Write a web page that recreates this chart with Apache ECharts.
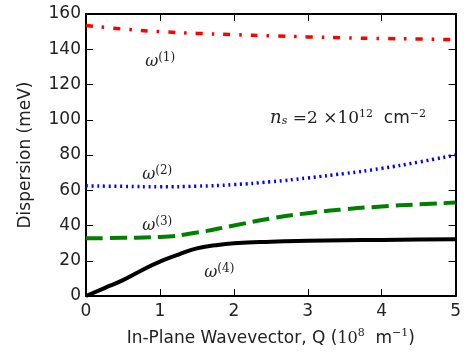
<!DOCTYPE html>
<html><head><meta charset="utf-8">
<script src="https://cdn.jsdelivr.net/npm/echarts@6/dist/echarts.min.js"></script>
<style>html,body{margin:0;padding:0;background:#fff}#c{width:464px;height:355px}</style>
</head><body><div id="c"></div>
<script>
const qRed = [0,0.5,1,1.5,2,2.5,3,3.5,4,4.5,5];
const omega1 = [153.5,151.5,150,149,148.3,147.6,147,146.5,146.1,145.8,145.5];
const qBlue = [0,0.5,1,1.5,2,2.5,3,3.5,4,4.5,5];
const omega2 = [62.5,62.2,62,62.3,63.2,64.8,67,69.5,72.4,76,80];
const qGreen = [0,0.5,1,1.5,2,2.5,3,3.5,4,4.5,5];
const omega3 = [32.7,33,33.5,36,40,44,47,49.2,50.8,52,53];
const qBlack = [0,0.25,0.5,0.75,1,1.25,1.5,1.75,2,2.5,3,3.5,4,4.5,5];
const omega4 = [0,4.5,9,14.5,19.5,23.5,27,28.8,29.9,30.8,31.3,31.6,31.8,32,32.2];
const xTicks = [0,1,2,3,4,5];
const yTicks = [0,20,40,60,80,100,120,140,160];
const labels = [
  {sup:'(1)', q:0.8, v:127},
  {sup:'(2)', q:0.76, v:63},
  {sup:'(3)', q:0.76, v:34},
  {sup:'(4)', q:1.6, v:7.5}
];
const annot = {q:2.49, v:95};

function pairs(xs, ys){ return xs.map((x,i)=>[x, ys[i]]); }

const chart = echarts.init(document.getElementById('c'));
function axisCommon(){ return {
  axisLine:{show:true, onZero:false, lineStyle:{color:'#000', width:2}},
  axisTick:{show:true, inside:true, length:7, lineStyle:{color:'#000', width:1}},
  splitLine:{show:false}
};}
const sans = 'DejaVu Sans';
chart.setOption({
  animation:false,
  grid:{left:86, right:8, top:14, bottom:59, containLabel:false},
  xAxis:[
    Object.assign({type:'value', min:0, max:5, interval:1, position:'bottom',
      name:'{a|In-Plane Wavevector, Q (}{b|10}{c|8}{a|  m}{c|−1}{a|)}',
      nameLocation:'middle', nameGap:32,
      nameTextStyle:{color:'#222', rich:{
        a:{fontFamily:sans, fontSize:17, color:'#222'},
        b:{fontFamily:'DejaVu Serif', fontSize:16, color:'#222'},
        c:{fontFamily:'DejaVu Serif', fontSize:11, color:'#222', padding:[0,0,10,0]}
      }},
      axisLabel:{color:'#222', fontFamily:sans, fontSize:17, margin:7,
        formatter:v=>xTicks.includes(v)?String(v):''}
    }, axisCommon()),
    Object.assign({type:'value', min:0, max:5, interval:1, position:'top', axisLabel:{show:false}}, axisCommon())
  ],
  yAxis:[
    Object.assign({type:'value', min:0, max:160, interval:20, position:'left',
      name:'Dispersion (meV)', nameLocation:'middle', nameGap:52,
      nameTextStyle:{color:'#222', fontFamily:sans, fontSize:17},
      axisLabel:{color:'#222', fontFamily:sans, fontSize:17, margin:5,
        formatter:v=>yTicks.includes(v)?String(v):''}
    }, axisCommon()),
    Object.assign({type:'value', min:0, max:160, interval:20, position:'right', axisLabel:{show:false}}, axisCommon())
  ],
  series:[
    {type:'line', data:pairs(qRed, omega1), smooth:true, symbol:'none',
      lineStyle:{color:'#ff0000', width:3.5, type:[7,9,2.5,9], cap:'butt'}},
    {type:'line', data:pairs(qBlue, omega2), smooth:true, symbol:'none',
      lineStyle:{color:'#0000ff', width:3.5, type:[2,3.7], cap:'butt'}},
    {type:'line', data:pairs(qGreen, omega3), smooth:true, symbol:'none',
      lineStyle:{color:'#008000', width:4, type:[17,7], cap:'butt'}},
    {type:'line', data:pairs(qBlack, omega4), smooth:true, symbol:'none',
      lineStyle:{color:'#000000', width:4}}
  ]
});

const g = [];
labels.forEach(l=>{
  const p = chart.convertToPixel({gridIndex:0}, [l.q, l.v]);
  g.push({type:'text', x:p[0], y:p[1], style:{
    text:'{w|ω}{s|'+l.sup+'}', textVerticalAlign:'bottom', textAlign:'left',
    rich:{ w:{fontFamily:'DejaVu Serif', fontStyle:'italic', fontSize:16, fill:'#222'},
           s:{fontFamily:'DejaVu Serif', fontSize:12, fill:'#222', padding:[0,0,8,0]} }
  }});
});
const pa = chart.convertToPixel({gridIndex:0}, [annot.q, annot.v]);
g.push({type:'text', x:pa[0], y:pa[1], style:{
  text:'{i|n}{t|s}{r| =2 ×10}{s|12}{a|  cm}{s|−2}', textVerticalAlign:'bottom', textAlign:'left',
  rich:{ i:{fontFamily:'DejaVu Serif', fontStyle:'italic', fontSize:18, fill:'#222'},
         t:{fontFamily:'DejaVu Serif', fontStyle:'italic', fontSize:11, fill:'#222', padding:[5,0,0,0]},
         r:{fontFamily:'DejaVu Serif', fontSize:17, fill:'#222'},
         s:{fontFamily:'DejaVu Serif', fontSize:11, fill:'#222', padding:[0,0,9,0]},
         a:{fontFamily:sans, fontSize:17, fill:'#222'} }
}});
chart.setOption({graphic:g});
</script>
</body></html>
